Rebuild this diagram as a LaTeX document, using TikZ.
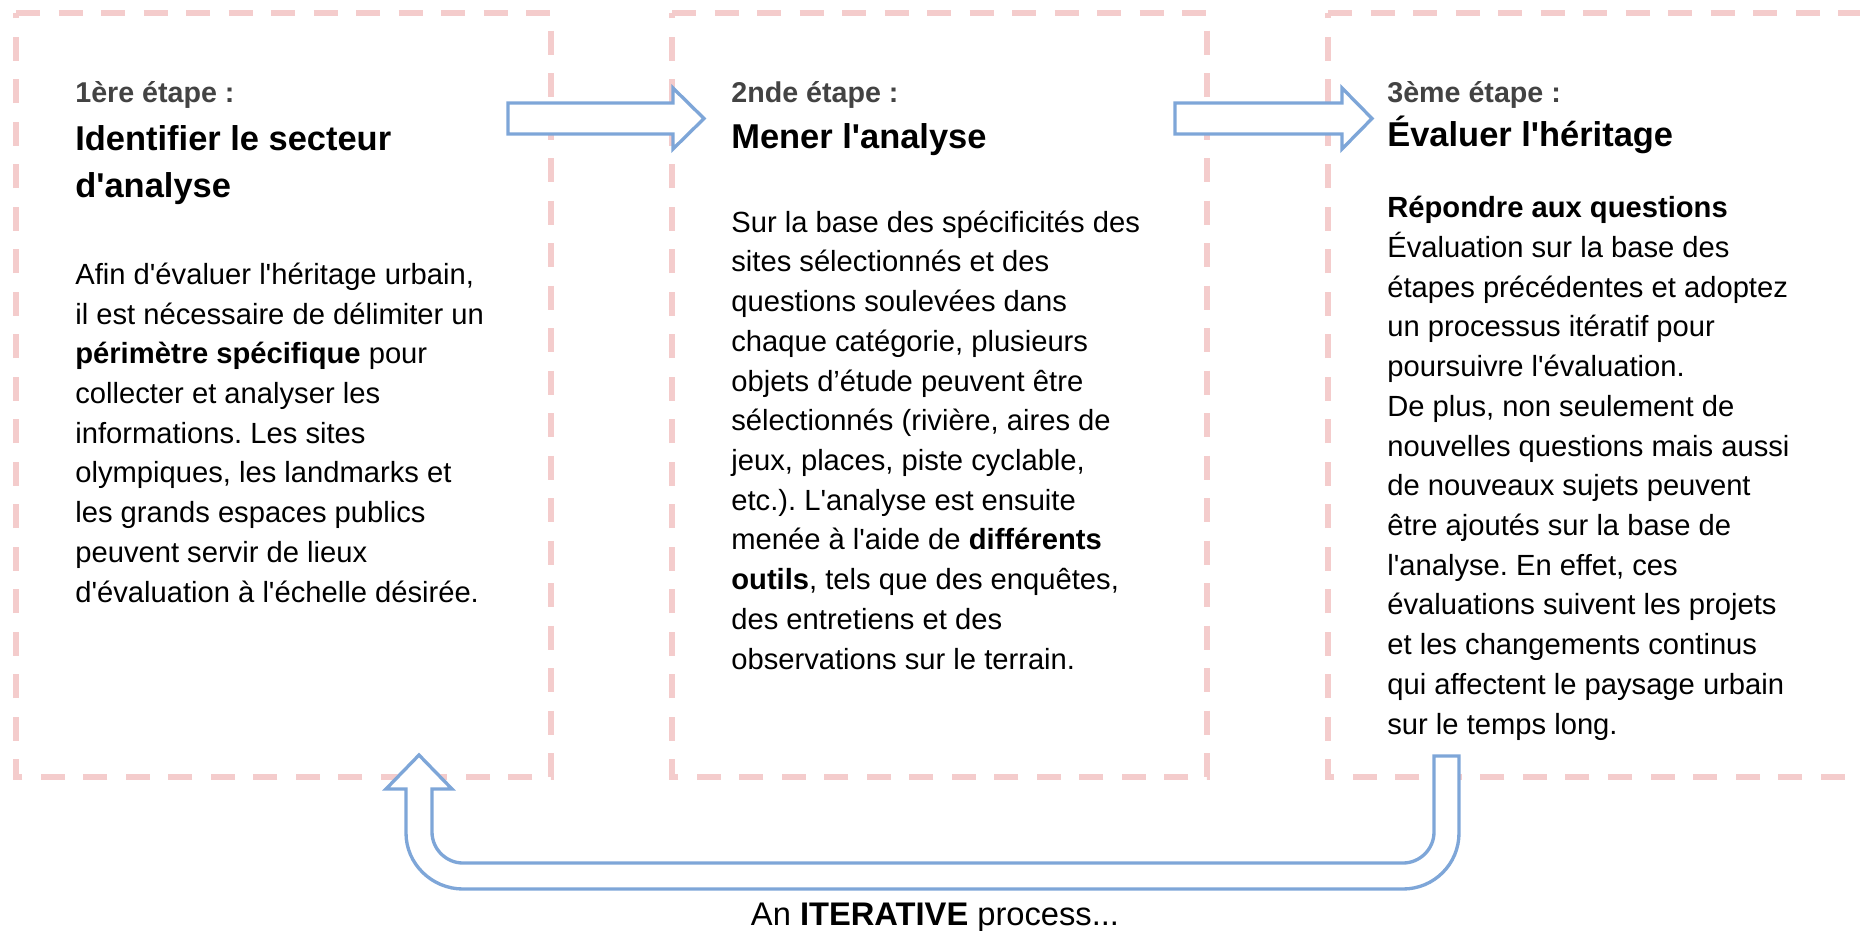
\documentclass[tikz,border=0pt]{standalone}
\usepackage{fontspec}
\setmainfont{Liberation Sans}[Ligatures=TeXOff]
\usetikzlibrary{positioning}
\frenchspacing

\definecolor{dashpink}{HTML}{F4CCCC}
\definecolor{arrowblue}{HTML}{7EA6D8}
\definecolor{stepgray}{HTML}{434343}

\tikzset{
  boxline/.style={draw=dashpink, line width=3.1pt, dash pattern=on 4.8mm off 3.7mm},
  blockarrow/.style={draw=arrowblue, fill=white, line width=1.9pt, line join=miter},
  steplabel/.style={anchor=base west, inner sep=0pt, text=stepgray,
    font=\fontsize{16.3pt}{20pt}\selectfont\bfseries},
  steptitle/.style={anchor=base west, inner sep=0pt, align=left,
    font=\fontsize{19.6pt}{26.6pt}\selectfont\bfseries},
  stepbody/.style={anchor=base west, inner sep=0pt, align=left,
    font=\fontsize{16.6pt}{22.6pt}\selectfont},
}

\begin{document}
\begin{tikzpicture}[x=0.2mm, y=-0.2mm]
    \useasboundingbox (0,0) rectangle (1860,930);
    \clip (0,0) rectangle (1860,930);

    % Dashed frames of the three steps
    \draw[boxline] (16,13) -- (551,13) -- (551,777) -- (16,777) -- cycle;
    \draw[boxline] (672,13) -- (1207,13) -- (1207,777) -- (672,777) -- cycle;
    \draw[boxline] (1328,13) -- (1863,13) -- (1863,777) -- (1328,777) -- cycle;

    % Block arrows between the steps
    \draw[blockarrow] (508,103) -- (673,103) -- (673,88) -- (704,118.5)
        -- (673,149) -- (673,134) -- (508,134) -- cycle;
    \draw[blockarrow] (1175,103) -- (1342,103) -- (1342,88) -- (1372,118.5)
        -- (1342,149) -- (1342,134) -- (1175,134) -- cycle;

    % U-turn arrow back to step 1
    \draw[blockarrow] (1434,756) -- (1459,756) -- (1459,833)
        .. controls (1459,864) and (1434,889) .. (1403,889) -- (463,889)
        .. controls (432,889) and (406,864) .. (406,833) -- (406,789)
        -- (386,789) -- (419,755) -- (452,789) -- (432,789) -- (432,832)
        .. controls (432,849) and (446,863) .. (463,863) -- (1403,863)
        .. controls (1420,863) and (1434,849) .. (1434,832) -- cycle;

    % Step 1 (multi-line nodes sit on the baseline of their last line)
    \node[steplabel] (lab1) at (75,102) {1ère étape :};
    \node[steptitle] (title1) at (75,197) {Identifier le secteur\\d'analyse};
    \node[stepbody] (body1) at (75,602) {Afin d'évaluer l'héritage urbain,\\
        il est nécessaire de délimiter un\\
        \textbf{périmètre spécifique} pour\\
        collecter et analyser les\\
        informations. Les sites\\
        olympiques, les landmarks et\\
        les grands espaces publics\\
        peuvent servir de lieux\\
        d'évaluation à l'échelle désirée.};

    % Step 2
    \node[steplabel] (lab2) at (731,102) {2nde étape :};
    \node[steptitle] (title2) at (731,148.5) {Mener l'analyse};
    \node[stepbody] (body2) at (731,669) {Sur la base des spécificités des\\
        sites sélectionnés et des\\
        questions soulevées dans\\
        chaque catégorie, plusieurs\\
        objets d’étude peuvent être\\
        sélectionnés (rivière, aires de\\
        jeux, places, piste cyclable,\\
        etc.). L'analyse est ensuite\\
        menée à l'aide de \textbf{différents}\\
        \textbf{outils}, tels que des enquêtes,\\
        des entretiens et des\\
        observations sur le terrain.};

    % Step 3
    \node[steplabel] (lab3) at (1387,102) {3ème étape :};
    \node[steptitle] (title3) at (1387,146) {Évaluer l'héritage};
    \node[stepbody] (body3) at (1387,734) {\textbf{Répondre aux questions}\\
        Évaluation sur la base des\\
        étapes précédentes et adoptez\\
        un processus itératif pour\\
        poursuivre l'évaluation.\\
        De plus, non seulement de\\
        nouvelles questions mais aussi\\
        de nouveaux sujets peuvent\\
        être ajoutés sur la base de\\
        l'analyse. En effet, ces\\
        évaluations suivent les projets\\
        et les changements continus\\
        qui affectent le paysage urbain\\
        sur le temps long.};

    \node[anchor=base, inner sep=0pt, font=\fontsize{18.6pt}{22pt}\selectfont]
        (iter) at (935,925) {An \textbf{ITERATIVE} process...};
\end{tikzpicture}
\end{document}
